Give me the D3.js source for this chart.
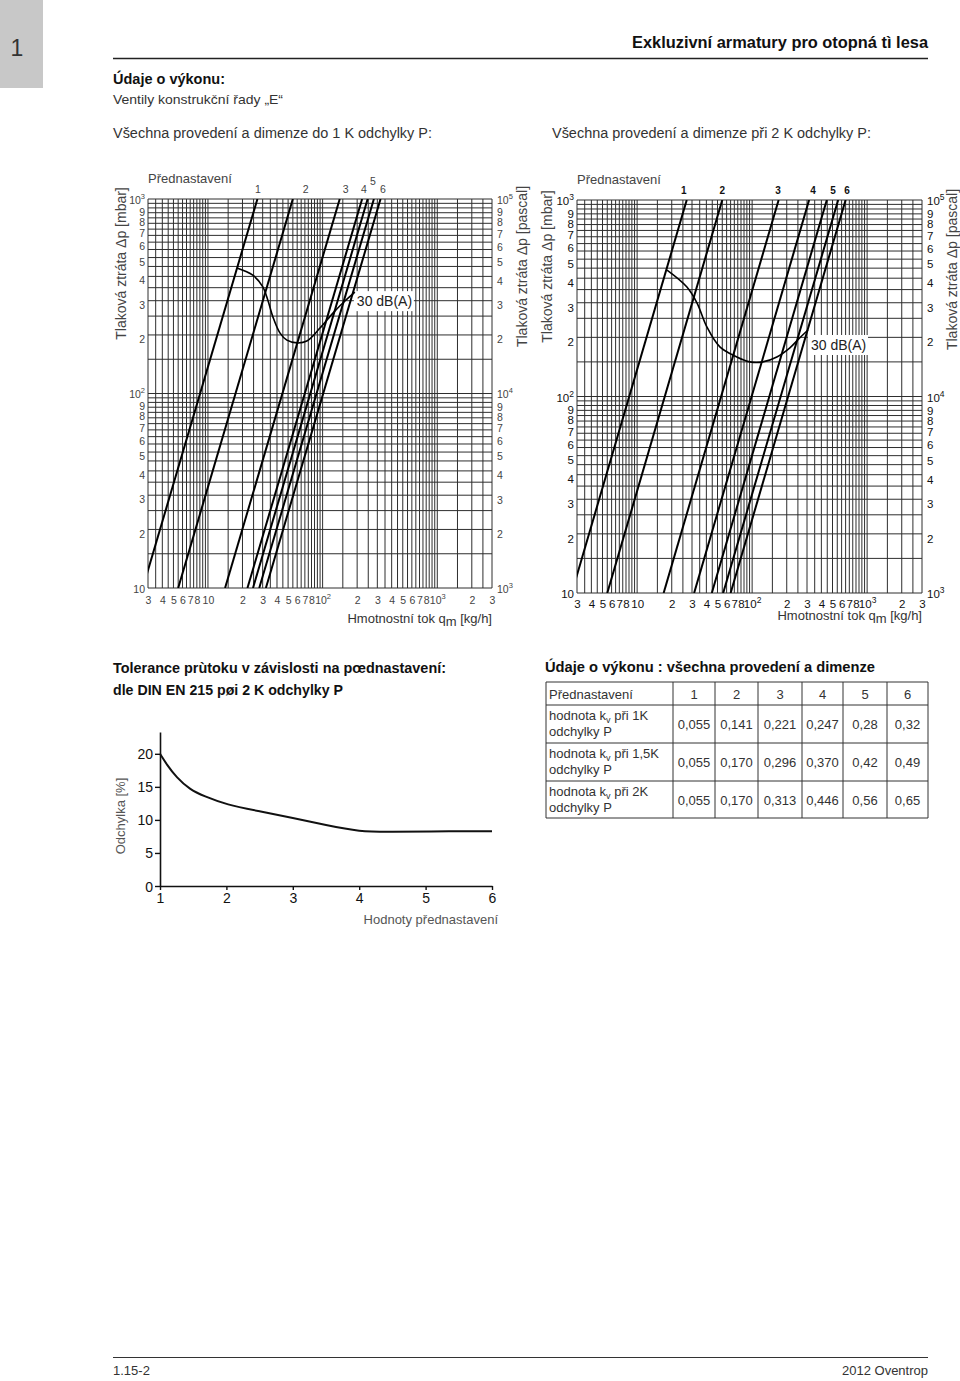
<!DOCTYPE html>
<html><head><meta charset="utf-8">
<script src="https://cdn.jsdelivr.net/npm/d3@7"></script>
<style>
body{margin:0;background:#fff;}
svg text{font-family:"Liberation Sans",Arial,Helvetica,sans-serif;}
</style></head><body>
<script>
// ---------------- DATA ----------------
const xTickValues = [3,4,5,6,7,8,10,20,30,40,50,60,70,80,100,200,300,400,500,600,700,800,1000,2000,3000];
const yTickValues = [10,20,30,40,50,60,70,80,90,100,200,300,400,500,600,700,800,900,1000];
const presetLabels = ["1","2","3","4","5","6"];
// flow [kg/h] of each preset line at 1000 mbar (top) and at 10 mbar (bottom)
const flowTopLeft     = [27, 55, 141, 221, 247, 280, 320];
const flowBottomLeft  = [2.7, 5.5, 14.1, 22.1, 24.7, 28, 32];
const flowTopRight    = [27, 55, 170, 313, 446, 560, 650];
const flowBottomRight = [2.7, 5.5, 17, 31.3, 44.6, 56, 65];
// flow at which the preset numbers sit above the grid
const presetLabelFlowLeft  = [27.3, 71, 159, 229, 274, 335];
const presetLabelFlowRight = [25.5, 55, 168, 338, 504, 668];
// 30 dB(A) curves: flow [kg/h], pressure loss [mbar]
const noiseLeftFlow  = [17.9, 24.6, 30.1, 33.3, 36.9, 42.4, 48.8, 59.6, 72.8, 94.8, 123, 150, 191];
const noiseLeftDp    = [442, 406, 353, 302, 247, 205, 188, 182, 186, 217, 259, 292, 332];
const noiseRightFlow = [18.2, 27.1, 33.2, 40.4, 52.4, 73.6, 95.6, 124, 164, 213, 260, 306];
const noiseRightDp   = [440, 361, 299, 226, 179, 159, 150, 150, 159, 177, 199, 218];
// tolerance chart
const tolSetting   = [1, 1.1, 1.25, 1.45, 1.66, 2, 2.5, 3, 3.5, 4, 4.5, 5, 6];
const tolDeviation = [20, 18.4, 16.4, 14.6, 13.6, 12.3, 11.3, 10.3, 9.2, 8.2, 8.2, 8.25, 8.3];
const tolYTicks = [0,5,10,15,20];
const tolXTicks = [1,2,3,4,5,6];
// table
const tableSettings = ["1","2","3","4","5","6"];
const kv1K  = ["0,055","0,141","0,221","0,247","0,28","0,32"];
const kv15K = ["0,055","0,170","0,296","0,370","0,42","0,49"];
const kv2K  = ["0,055","0,170","0,313","0,446","0,56","0,65"];
const rowDelta = ["1K","1,5K","2K"];

// ---------------- SVG ----------------
const svg = d3.select("body").append("svg").attr("width",960).attr("height",1381).style("display","block");

function txt(parent, x, y, s, opt={}){
  const t = parent.append("text").attr("x",x).attr("y",y).text(s)
    .attr("font-size",opt.size||13).attr("fill",opt.fill||"#222");
  if(opt.weight) t.attr("font-weight",opt.weight);
  if(opt.anchor) t.attr("text-anchor",opt.anchor);
  if(opt.len) t.attr("textLength",opt.len).attr("lengthAdjust","spacingAndGlyphs");
  if(opt.family) t.attr("font-family",opt.family);
  return t;
}

// header
svg.append("rect").attr("x",0).attr("y",0).attr("width",43).attr("height",88).attr("fill","#c8c8c8");
txt(svg,17,56,"1",{size:23,anchor:"middle",fill:"#333"});
txt(svg,928,48,"Exkluzivní armatury pro otopná tì lesa",{size:17,weight:"bold",anchor:"end",len:296,fill:"#111"});
svg.append("line").attr("x1",113).attr("x2",928).attr("y1",58.5).attr("y2",58.5).attr("stroke","#222").attr("stroke-width",1.6);
txt(svg,113,84,"Údaje o výkonu:",{size:15,weight:"bold",len:112,fill:"#111"});
txt(svg,113,104,"Ventily konstrukční řady „E“",{size:13,len:170,fill:"#333"});
txt(svg,113,138,"Všechna provedení a dimenze do 1 K odchylky P:",{size:14,len:319,fill:"#333"});
txt(svg,552,138,"Všechna provedení a dimenze při 2 K odchylky P:",{size:14,len:319,fill:"#333"});

// ---------------- NOMOGRAMS ----------------
const gridX = [...d3.range(3,10,0.5), ...d3.range(10,100,5), ...d3.range(100,1000,50), ...d3.range(1000,3001,500)];
const gridY = [...d3.range(10,100,5), ...d3.range(100,1001,50)];

function powerLabel(d, shift){
  const ei = Math.floor(Math.log10(d) + 1e-9);
  const m = Math.round(d / Math.pow(10, ei));
  if (m === 1) return {base:"10", sup: (ei+shift)===1 ? "" : String(ei+shift), pow:true};
  return {base:String(m), sup:"", pow:false};
}
function applyLabel(sel, shift, supSize, dyDigit, dyPow){
  sel.each(function(d){
    const t = d3.select(this);
    const f = powerLabel(d, shift);
    t.text(f.base);
    if (dyDigit !== undefined) t.attr("dy", f.pow ? dyPow : dyDigit);
    if (f.sup) t.append("tspan").attr("dy",-5).attr("font-size",supSize).text(f.sup);
  });
}

function nomogram(o){
  const x = d3.scaleLog().domain([3,3000]).range([o.left,o.right]);
  const y = d3.scaleLog().domain([10,1000]).range([o.bottom,o.top]);
  const g = svg.append("g");
  const clipId = "clip"+o.id;
  svg.append("clipPath").attr("id",clipId).append("rect")
    .attr("x",o.left).attr("y",o.top).attr("width",o.right-o.left).attr("height",o.bottom-o.top);

  g.append("g").selectAll("line").data(gridX).join("line")
    .attr("x1",d=>x(d)).attr("x2",d=>x(d)).attr("y1",o.top).attr("y2",o.bottom)
    .attr("stroke","#2e2e2e").attr("stroke-width",1);
  g.append("g").selectAll("line").data(gridY).join("line")
    .attr("y1",d=>y(d)).attr("y2",d=>y(d)).attr("x1",o.left).attr("x2",o.right)
    .attr("stroke","#2e2e2e").attr("stroke-width",1);

  // 30 dB(A) label box
  const lbx = x(o.noiseFlow[o.noiseFlow.length-1]) + o.boxDx;
  const lby = y(o.noiseDp[o.noiseDp.length-1]) + o.boxDy;
  g.append("rect").attr("x",lbx).attr("y",lby-10).attr("width",60).attr("height",20).attr("fill","#fff");
  txt(g, lbx+3, lby+5, "30 dB(A)", {size:14, fill:"#222"});

  // preset lines
  const pairs = o.flowTop.map((q,i)=>({top:q, bottom:o.flowBottom[i]}));
  g.append("g").attr("clip-path",`url(#${clipId})`).selectAll("line").data(pairs).join("line")
    .attr("x1",d=>x(d.bottom)).attr("y1",y(10)).attr("x2",d=>x(d.top)).attr("y2",y(1000))
    .attr("stroke","#000").attr("stroke-width",2);

  // noise curve
  const lg = d3.line().x(d=>x(d[0])).y(d=>y(d[1])).curve(d3.curveCatmullRom.alpha(0.5));
  g.append("path").datum(d3.zip(o.noiseFlow,o.noiseDp)).attr("d",lg)
    .attr("fill","none").attr("stroke","#000").attr("stroke-width",1.6);

  // preset numbers
  g.append("g").selectAll("text").data(presetLabels).join("text")
    .attr("x",(d,i)=>x(o.labelFlow[i])).attr("y",(d,i)=> (o.raise && i===4) ? o.top-14 : o.top-6)
    .attr("text-anchor","middle").attr("font-size",o.numSize).attr("fill",o.tickFill)
    .attr("font-weight",o.numWeight).text(d=>d);
  txt(g, o.left, o.top-16, "Přednastavení", {size:13, fill:"#444"});

  // axes (labels only)
  const axB = g.append("g").attr("transform",`translate(0,${o.bottom+o.xLabDy})`)
    .call(d3.axisBottom(x).tickValues(xTickValues).tickSize(0).tickPadding(0).tickFormat(()=>""));
  axB.select(".domain").remove();
  axB.selectAll(".tick text").attr("dy",0).attr("y",0).attr("font-size",o.tickSize).attr("fill",o.tickFill)
    .attr("font-family",null);
  applyLabel(axB.selectAll(".tick text"), 0, o.tickSize-3);

  const axL = g.append("g").attr("transform",`translate(${o.left-3},0)`)
    .call(d3.axisLeft(y).tickValues(yTickValues).tickSize(0).tickPadding(0).tickFormat(()=>""));
  axL.select(".domain").remove();
  axL.selectAll(".tick text").attr("font-size",o.tickSize).attr("fill",o.tickFill).attr("font-family",null);
  applyLabel(axL.selectAll(".tick text"), 0, o.tickSize-3, "0.72em", "0.4em");

  const axR = g.append("g").attr("transform",`translate(${o.right+5},0)`)
    .call(d3.axisRight(y).tickValues(yTickValues).tickSize(0).tickPadding(0).tickFormat(()=>""));
  axR.select(".domain").remove();
  axR.selectAll(".tick text").attr("font-size",o.tickSize).attr("fill",o.tickFill).attr("font-family",null);
  applyLabel(axR.selectAll(".tick text"), 2, o.tickSize-3, "0.75em", "0.4em");

  // axis titles
  g.append("text").attr("transform",`translate(${o.left-o.titleLDx},${(o.top+o.bottom)/2 - 130}) rotate(-90)`)
    .attr("text-anchor","middle").attr("font-size",14).attr("fill","#444").text("Tlaková ztráta Δp [mbar]");
  g.append("text").attr("transform",`translate(${o.right+o.titleRDx},${(o.top+o.bottom)/2 - 127}) rotate(-90)`)
    .attr("text-anchor","middle").attr("font-size",14).attr("fill","#444").text("Tlaková ztráta Δp [pascal]");
  const xt = g.append("text").attr("x",o.right).attr("y",o.bottom+o.xTitleDy).attr("text-anchor","end")
    .attr("font-size",13).attr("fill","#333").text("Hmotnostní tok q");
  xt.append("tspan").attr("dy",3).attr("font-size",13).text("m");
  xt.append("tspan").attr("dy",-3).text(" [kg/h]");
  return {x,y};
}

nomogram({id:"L", left:148, right:492, top:199, bottom:588,
  flowTop:flowTopLeft, flowBottom:flowBottomLeft, labelFlow:presetLabelFlowLeft, raise:true,
  noiseFlow:noiseLeftFlow, noiseDp:noiseLeftDp, boxDx:-1, boxDy:9,
  tickSize:10.5, tickFill:"#444", numSize:10.5, numWeight:"normal",
  xLabDy:16, xTitleDy:35, titleLDx:22, titleRDx:35});
nomogram({id:"R", left:577, right:922, top:200, bottom:593,
  flowTop:flowTopRight, flowBottom:flowBottomRight, labelFlow:presetLabelFlowRight, raise:false,
  noiseFlow:noiseRightFlow, noiseDp:noiseRightDp, boxDx:0, boxDy:15,
  tickSize:11.5, tickFill:"#111", numSize:10, numWeight:"bold",
  xLabDy:15, xTitleDy:27, titleLDx:25, titleRDx:35});

// ---------------- TOLERANCE CHART ----------------
txt(svg,113,673,"Tolerance prùtoku v závislosti na pœdnastavení:",{size:14.5,weight:"bold",len:333,fill:"#111"});
txt(svg,113,695,"dle DIN EN 215 pøi 2 K odchylky P",{size:14.5,weight:"bold",len:230,fill:"#111"});

const xT = d3.scaleLinear().domain([1,6]).range([160,492]);
const yT = d3.scaleLinear().domain([0,23.3]).range([886,732]);
const tg = svg.append("g");
const tax = tg.append("g").attr("transform","translate(0,886)")
  .call(d3.axisBottom(xT).tickValues(tolXTicks).tickSize(4).tickSizeOuter(0).tickPadding(3).tickFormat(d3.format("d")));
const tay = tg.append("g").attr("transform","translate(160,0)")
  .call(d3.axisLeft(yT).tickValues(tolYTicks).tickSize(5).tickSizeOuter(0).tickPadding(2).tickFormat(d3.format("d")));
[tax,tay].forEach(a=>{
  a.select(".domain").attr("stroke","#111").attr("stroke-width",1.6);
  a.selectAll(".tick line").attr("stroke","#111").attr("stroke-width",1.4);
  a.selectAll(".tick text").attr("font-size",14).attr("fill","#111").attr("font-family","DejaVu Sans, sans-serif");
});
tay.selectAll(".tick text").attr("dy","0.36em");
tg.append("path").datum(d3.zip(tolSetting,tolDeviation))
  .attr("d",d3.line().x(d=>xT(d[0])).y(d=>yT(d[1])).curve(d3.curveBasis))
  .attr("fill","none").attr("stroke","#111").attr("stroke-width",2);
tg.append("text").attr("transform","translate(125,816) rotate(-90)").attr("text-anchor","middle")
  .attr("font-size",13).attr("fill","#555").text("Odchylka [%]");
txt(tg,498,924,"Hodnoty přednastavení",{size:13,anchor:"end",fill:"#555"});

// ---------------- TABLE ----------------
txt(svg,545,672,"Údaje o výkonu : všechna provedení a dimenze",{size:14.5,weight:"bold",len:330,fill:"#111"});
const colEdges = [546,673,715,758,802,843,887,928];
const rowEdges = [682,705,743,781,818];
const tb = svg.append("g");
tb.append("g").selectAll("line").data(colEdges).join("line")
  .attr("x1",d=>d).attr("x2",d=>d).attr("y1",rowEdges[0]).attr("y2",rowEdges[rowEdges.length-1])
  .attr("stroke","#333").attr("stroke-width",1);
tb.append("g").selectAll("line").data(rowEdges).join("line")
  .attr("y1",d=>d).attr("y2",d=>d).attr("x1",colEdges[0]).attr("x2",colEdges[colEdges.length-1])
  .attr("stroke","#333").attr("stroke-width",1);
txt(tb,549,699,"Přednastavení",{size:13,fill:"#333"});
tb.append("g").selectAll("text").data(tableSettings).join("text")
  .attr("x",(d,i)=>(colEdges[i+1]+colEdges[i+2])/2).attr("y",699).attr("text-anchor","middle")
  .attr("font-size",13).attr("fill","#333").text(d=>d);
const rowsData = [kv1K, kv15K, kv2K];
rowsData.forEach((row,r)=>{
  const top = rowEdges[r+1];
  const t = tb.append("text").attr("x",549).attr("y",top+15).attr("font-size",13).attr("fill","#333").text("hodnota k");
  t.append("tspan").attr("dy",3).attr("font-size",9).text("v");
  t.append("tspan").attr("dy",-3).text(" při " + rowDelta[r]);
  txt(tb,549,top+31,"odchylky P",{size:13,fill:"#333"});
  tb.append("g").selectAll("text").data(row).join("text")
    .attr("x",(d,i)=>(colEdges[i+1]+colEdges[i+2])/2).attr("y",top+24).attr("text-anchor","middle")
    .attr("font-size",13).attr("fill","#333").text(d=>d);
});

// ---------------- FOOTER ----------------
svg.append("line").attr("x1",113).attr("x2",928).attr("y1",1357.5).attr("y2",1357.5).attr("stroke","#333").attr("stroke-width",1.2);
txt(svg,113,1375,"1.15-2",{size:13,fill:"#333"});
txt(svg,928,1375,"2012 Oventrop",{size:13,anchor:"end",fill:"#333"});
</script></body></html>
